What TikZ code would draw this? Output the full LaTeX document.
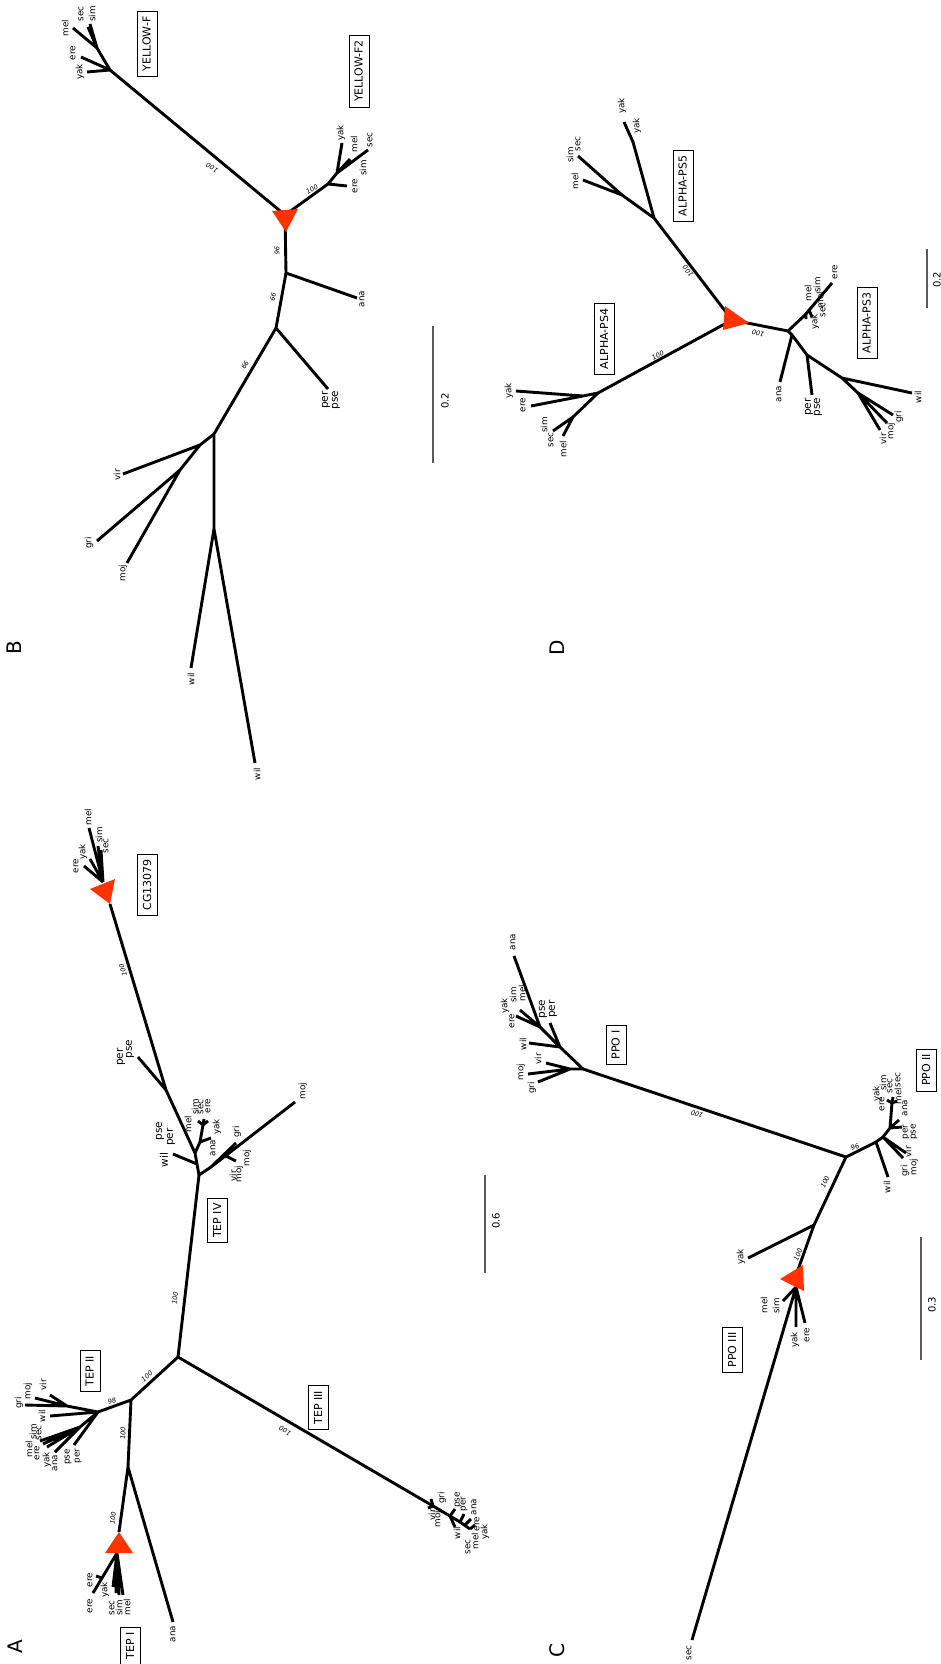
\documentclass[tikz,border=0pt]{standalone}
\usepackage{fontspec}
\setmainfont{DejaVu Sans}
\definecolor{triorange}{HTML}{FF3300}
\definecolor{bargray}{gray}{0.35}

\begin{document}
\begin{tikzpicture}[x=1pt, y=-1pt,
  branch/.style={line width=2.9pt, line join=round},
  tri/.style={fill=triorange},
  leaf/.style={rotate=90, inner sep=0pt, font=\fontsize{8.8}{10}\selectfont},
  bigleaf/.style={leaf, font=\fontsize{10.5}{12}\selectfont},
  boot/.style={inner sep=0pt, font=\fontsize{6.6}{8}\selectfont\itshape},
  clade/.style={draw, line width=0.8pt, rotate=90, inner xsep=5pt, inner ysep=5.5pt,
                text height=8pt, text depth=1pt, font=\fontsize{11}{13}\selectfont},
  bar/.style={line width=1.2pt, bargray},
  barlabel/.style={rotate=90, font=\fontsize{10}{12}\selectfont},
  panel/.style={rotate=90, font=\fontsize{20}{24}\selectfont},
]
  \fill[white] (0,0) rectangle (940,1664);
  \useasboundingbox (0,0) rectangle (940,1664);

  \coordinate (aR) at (178,1357);
  \coordinate (aIV) at (199,1175);
  \coordinate (aS) at (131,1400);
  \coordinate (aII) at (98,1412);
  \coordinate (aI) at (128,1467);
  \coordinate (aIIIa) at (433,1506);
  \coordinate (aIIIb) at (450,1516);
  \coordinate (aIIIc) at (460,1522);
  \coordinate (aIIId) at (470,1529);
  \coordinate (aIIIe) at (465,1525);
  \coordinate (a3gri) at (431,1499);
  \coordinate (a3vir) at (428,1508);
  \coordinate (a3wil) at (455,1527);
  \coordinate (a3pse) at (455,1509);
  \coordinate (a3per) at (464,1514);
  \coordinate (a3ana) at (471,1519);
  \coordinate (a3ere) at (475,1525);
  \coordinate (aIIs) at (67,1406);
  \coordinate (a2vir) at (50,1395);
  \coordinate (a2moj) at (35,1398);
  \coordinate (a2gri) at (25,1405);
  \coordinate (a2wil) at (50,1416);
  \coordinate (aIIl) at (80,1427);
  \coordinate (a2ana) at (55,1452);
  \coordinate (a2yak) at (47,1447);
  \coordinate (a2ere) at (43,1444);
  \coordinate (a2mel) at (40,1441);
  \coordinate (a2pse) at (74,1445);
  \coordinate (aIt) at (119,1532);
  \coordinate (aIl) at (105,1553);
  \coordinate (aIr) at (133,1553);
  \coordinate (aIb) at (117,1553);
  \coordinate (aIe) at (102,1578);
  \coordinate (a1ere) at (93,1593);
  \coordinate (a1ere2) at (96,1576);
  \coordinate (a1yak) at (113,1587);
  \coordinate (a1sec) at (116,1593);
  \coordinate (a1sim) at (119,1595);
  \coordinate (a1mel) at (123,1595);
  \coordinate (a1ana) at (173,1622);
  \coordinate (a6) at (195,1153);
  \coordinate (a7) at (166,1090);
  \coordinate (a7pp) at (138,1057);
  \coordinate (aCGl) at (90,889);
  \coordinate (aCGr) at (115,879);
  \coordinate (aCGt) at (110,904);
  \coordinate (aCGb) at (103,882);
  \coordinate (cgmel) at (89,828);
  \coordinate (cgsim) at (98,846);
  \coordinate (cgsec) at (101,850);
  \coordinate (cgyak) at (90,859);
  \coordinate (cgere) at (84,866);
  \coordinate (a6w) at (197,1164);
  \coordinate (a6wil) at (173,1154);
  \coordinate (a6b) at (200,1142);
  \coordinate (a6ya) at (211,1138);
  \coordinate (a8) at (203,1125);
  \coordinate (a8a) at (198,1121);
  \coordinate (a8b) at (208,1121);
  \coordinate (a8c) at (204,1119);
  \coordinate (a9) at (211,1167);
  \coordinate (a9b) at (226,1156);
  \coordinate (a9vm) at (236,1161);
  \coordinate (a9gri) at (236,1143);
  \coordinate (a9moj) at (295,1102);

  \draw[branch] (aR) -- (aIV) (aR) -- (aS) (aS) -- (aII) (aS) -- (aI);
  \draw[branch] (aR) -- (aIIIa) -- (aIIIb) -- (aIIIc) -- (aIIId);
  \draw[branch] (aIIIa) -- (a3gri) (aIIIa) -- (a3vir) (aIIIb) -- (a3wil) (aIIIb) -- (a3pse)
                (aIIIc) -- (a3per) (aIIIe) -- (a3ana) (aIIId) -- (a3ere);
  \draw[branch] (aII) -- (aIIs) (aIIs) -- (a2vir) (aIIs) -- (a2moj) (aIIs) -- (a2gri)
                (aII) -- (a2wil) (aII) -- (aIIl) (aIIl) -- (a2ana) (aIIl) -- (a2yak)
                (aIIl) -- (a2ere) (aIIl) -- (a2mel) (aII) -- (a2pse);
  \draw[branch] (aI) -- (aIt) (aI) -- (a1ana);
  \draw[branch] (aIb) -- (aIe) -- (a1ere) (aIe) -- (a1ere2) (aIb) -- (a1yak)
                (aIb) -- (a1sec) (aIb) -- (a1sim) (aIb) -- (a1mel);
  \draw[branch] (aIV) -- (a6) -- (a7) -- (aCGt) (a7) -- (a7pp);
  \draw[branch] (aCGb) -- (cgmel) (aCGb) -- (cgsim) (aCGb) -- (cgsec) (aCGb) -- (cgyak) (aCGb) -- (cgere);
  \draw[branch] (a6w) -- (a6wil) (a6) -- (a6b) -- (a8) (a6b) -- (a6ya)
                (a8) -- (a8a) (a8) -- (a8b) (a8) -- (a8c);
  \draw[branch] (aIV) -- (a9) -- (a9moj) (a9) -- (a9gri) (a9b) -- (a9vm);
  \fill[tri] (aIt) -- (aIl) -- (aIr) -- cycle;
  \fill[tri] (aCGl) -- (aCGr) -- (aCGt) -- cycle;

  \node[leaf] (lA3gri) at (442,1498) {gri};
  \node[leaf] (lA3vir) at (432,1515) {vir};
  \node[leaf] (lA3moj) at (438,1519) {moj};
  \node[leaf] (lA3pse) at (458,1500) {pse};
  \node[leaf] (lA3per) at (464,1504) {per};
  \node[leaf] (lA3ana) at (474,1507) {ana};
  \node[leaf] (lA3wil) at (457,1533) {wil};
  \node[leaf] (lA3sec) at (468,1547) {sec};
  \node[leaf] (lA3mel) at (475,1541) {mel};
  \node[leaf] (lA3ere) at (477,1524) {ere};
  \node[leaf] (lA3yak) at (485,1532) {yak};
  \node[leaf] (lA2vir) at (43,1385) {vir};
  \node[leaf] (lA2moj) at (28,1391) {moj};
  \node[leaf] (lA2gri) at (19,1403) {gri};
  \node[leaf] (lA2wil) at (42,1416) {wil};
  \node[leaf] (lA2sec) at (39,1433) {sec};
  \node[leaf] (lA2sim) at (33,1432) {sim};
  \node[leaf] (lA2mel) at (29,1449) {mel};
  \node[leaf] (lA2ere) at (37,1453) {ere};
  \node[leaf] (lA2yak) at (47,1460) {yak};
  \node[leaf] (lA2ana) at (55,1463) {ana};
  \node[leaf] (lA2pse) at (68,1457) {pse};
  \node[leaf] (lA2per) at (78,1456) {per};
  \node[leaf] (lA1ere) at (90,1580) {ere};
  \node[leaf] (lA1ere2) at (90,1606) {ere};
  \node[leaf] (lA1yak) at (105,1590) {yak};
  \node[leaf] (lA1sec) at (112,1608) {sec};
  \node[leaf] (lA1sim) at (119,1608) {sim};
  \node[leaf] (lA1mel) at (127,1607) {mel};
  \node[leaf] (lA1ana) at (173,1634) {ana};
  \node[leaf] (lCGmel) at (88,817) {mel};
  \node[leaf] (lCGsim) at (99,835) {sim};
  \node[leaf] (lCGsec) at (106,846) {sec};
  \node[leaf] (lCGyak) at (83,852) {yak};
  \node[leaf] (lCGere) at (76,866) {ere};
  \node[bigleaf] (lA7per) at (121,1057) {per};
  \node[bigleaf] (lA7pse) at (130,1049) {pse};
  \node[bigleaf] (lA4wil) at (164,1160) {wil};
  \node[bigleaf] (lA4pse) at (160,1131) {pse};
  \node[bigleaf] (lA4per) at (171,1137) {per};
  \node[leaf] (lA4mel) at (188,1124) {mel};
  \node[leaf] (lA4sim) at (195,1107) {sim};
  \node[leaf] (lA4sec) at (201,1107) {sec};
  \node[leaf] (lA4ere) at (208,1106) {ere};
  \node[leaf] (lA4yak) at (217,1127) {yak};
  \node[leaf] (lA4ana) at (213,1148) {ana};
  \node[leaf] (lA4gri) at (237,1132) {gri};
  \node[leaf] (lA4vir) at (233,1176) {vir};
  \node[leaf] (lA4moj) at (239,1174) {moj};
  \node[leaf] (lA4moj2) at (247,1158) {moj};
  \node[leaf] (lA4moj3) at (303,1091) {moj};

  \node[boot, rotate=84] (bA1) at (175,1298) {100};
  \node[boot, rotate=42] (bA2) at (147,1376) {100};
  \node[boot, rotate=15] (bA3) at (112,1401) {98};
  \node[boot, rotate=88] (bA4) at (123,1433) {100};
  \node[boot, rotate=84] (bA5) at (113,1518) {100};
  \node[boot, rotate=150] (bA6) at (285,1431) {100};
  \node[boot, rotate=106] (bA7) at (123,970) {100};

  \node[clade] (tepI) at (130.5,1646) {TEP I};
  \node[clade] (tepII) at (90,1371) {TEP II};
  \node[clade] (tepIII) at (318.5,1407.5) {TEP III};
  \node[clade] (tepIV) at (217.5,1220.5) {TEP IV};
  \node[clade] (cg) at (147.5,885) {CG13079};
  \coordinate (sA1) at (485,1175);
  \coordinate (sA2) at (485,1273);
  \draw[bar] (sA1) -- (sA2);
  \node[barlabel] (sAl) at (496,1221) {0.6};
  \node[panel] (pA) at (15,1647) {A};

  \coordinate (bYF) at (110,70);
  \coordinate (bYFs) at (97,48);
  \coordinate (byyak) at (87,72);
  \coordinate (byere) at (81,57);
  \coordinate (bymel) at (73,28);
  \coordinate (bysec) at (88,27);
  \coordinate (bysim) at (90,24);
  \coordinate (bTa) at (272,211);
  \coordinate (bTb) at (298,209);
  \coordinate (bTc) at (286,232);
  \coordinate (bT) at (285,215);
  \coordinate (bYF2) at (328,184);
  \coordinate (bYF2s) at (337,173);
  \coordinate (bzere) at (347,186);
  \coordinate (bzyak) at (342,143);
  \coordinate (bzmel) at (350,159);
  \coordinate (bzsim) at (368,150);
  \coordinate (bJ1) at (286,273);
  \coordinate (bana) at (357,298);
  \coordinate (bJ2) at (276,328);
  \coordinate (bpp) at (328,389);
  \coordinate (bJ3) at (214,434);
  \coordinate (bS1) at (200,445);
  \coordinate (bS2) at (180,470);
  \coordinate (bvir) at (123,474);
  \coordinate (bgri) at (97,541);
  \coordinate (bmoj) at (127,563);
  \coordinate (bJ4) at (214,529);
  \coordinate (bwil) at (191,668);
  \coordinate (bwil2) at (255,763);

  \draw[branch] (bYF) -- (byyak) (bYF) -- (byere) (bYF) -- (bYFs) (bYFs) -- (bymel)
                (bYFs) -- (bysec) (bYFs) -- (bysim);
  \draw[branch] (bT) -- (bYF) (bT) -- (bYF2) (bYF2) -- (bzere) (bYF2) -- (bYF2s)
                (bYF2s) -- (bzyak) (bYF2s) -- (bzmel) (bYF2s) -- (bzsim);
  \draw[branch] (bT) -- (bJ1) -- (bJ2) -- (bJ3) -- (bJ4) (bJ1) -- (bana) (bJ2) -- (bpp);
  \draw[branch] (bJ3) -- (bS1) -- (bvir) (bS1) -- (bS2) -- (bgri) (bS2) -- (bmoj)
                (bJ4) -- (bwil) (bJ4) -- (bwil2);
  \fill[tri] (bTa) -- (bTb) -- (bTc) -- cycle;

  \node[leaf] (lByak) at (80,72) {yak};
  \node[leaf] (lBere) at (73,53) {ere};
  \node[leaf] (lBmel) at (65,28) {mel};
  \node[leaf] (lBsec) at (81,14) {sec};
  \node[leaf] (lBsim) at (92,14) {sim};
  \node[leaf] (lB2ere) at (355,186) {ere};
  \node[leaf] (lB2yak) at (341,133) {yak};
  \node[leaf] (lB2mel) at (354,144) {mel};
  \node[leaf] (lB2sim) at (363,168) {sim};
  \node[leaf] (lB2sec) at (370,140) {sec};
  \node[leaf] (lBana) at (362,299) {ana};
  \node[bigleaf] (lBper) at (326,400) {per};
  \node[bigleaf] (lBpse) at (336,400) {pse};
  \node[leaf] (lBvir) at (117,475) {vir};
  \node[leaf] (lBgri) at (89,543) {gri};
  \node[leaf] (lBmoj) at (123,573) {moj};
  \node[leaf] (lBwil) at (191,679) {wil};
  \node[leaf] (lBwil2) at (257,774) {wil};

  \node[boot, rotate=150] (bB1) at (212,168) {100};
  \node[boot, rotate=30] (bB2) at (312,189) {100};
  \node[boot, rotate=-90] (bB3) at (277,251) {96};
  \node[boot, rotate=-100] (bB4) at (273,297) {99};
  \node[boot, rotate=-120] (bB5) at (245,365) {99};

  \node[clade] (yf) at (147,44) {YELLOW-F};
  \node[clade] (yf2) at (359,71) {YELLOW-F2};
  \coordinate (sB1) at (433,326);
  \coordinate (sB2) at (433,463);
  \draw[bar] (sB1) -- (sB2);
  \node[barlabel] (sBl) at (445,401) {0.2};
  \node[panel] (pB) at (14,648) {B};

  \coordinate (cTa) at (780,1279);
  \coordinate (cTb) at (803,1265);
  \coordinate (cTc) at (804,1291);
  \coordinate (cT) at (795,1278);
  \coordinate (cTm) at (796,1287);
  \coordinate (cJ1) at (814,1225);
  \coordinate (c1yak) at (748,1258);
  \coordinate (cJ2) at (846,1157);
  \coordinate (cP1) at (583,1069);
  \coordinate (cS1) at (560,1047);
  \coordinate (cS2) at (540,1027);
  \coordinate (cS3) at (570,1069);
  \coordinate (c1ana) at (514,956);
  \coordinate (c1y) at (520,1010);
  \coordinate (c1y2) at (516,1016);
  \coordinate (c1ps) at (550,1023);
  \coordinate (c1wil) at (529,1043);
  \coordinate (c1vir) at (546,1063);
  \coordinate (c1moj) at (528,1074);
  \coordinate (c1gri) at (538,1082);
  \coordinate (cQ1) at (876,1142);
  \coordinate (cQ2) at (883,1137);
  \coordinate (cQ4) at (890,1128);
  \coordinate (cQ5) at (892,1103);
  \coordinate (c2wil) at (888,1177);
  \coordinate (c2gmv) at (903,1158);
  \coordinate (c2v) at (906,1153);
  \coordinate (c2pp) at (902,1127);
  \coordinate (c2ana) at (899,1120);
  \coordinate (c2t1) at (887,1100);
  \coordinate (c2t2) at (897,1101);
  \coordinate (c2t3) at (893,1097);
  \coordinate (c3ms) at (783,1301);
  \coordinate (c3yak) at (796,1327);
  \coordinate (c3ere) at (805,1323);
  \coordinate (c3sec) at (692,1640);

  \draw[branch] (cT) -- (cJ1) -- (cJ2) -- (cP1) (cJ1) -- (c1yak);
  \draw[branch] (cP1) -- (cS1) -- (cS2) -- (c1ana) (cS2) -- (c1y) (cS2) -- (c1y2)
                (cS1) -- (c1ps) (cS1) -- (c1wil) (cP1) -- (cS3) (cS3) -- (c1vir)
                (cS3) -- (c1moj) (cS3) -- (c1gri);
  \draw[branch] (cJ2) -- (cQ1) -- (cQ2) -- (cQ4) -- (cQ5) (cQ1) -- (c2wil)
                (cQ2) -- (c2gmv) (cQ2) -- (c2v) (cQ4) -- (c2pp) (cQ4) -- (c2ana)
                (cQ5) -- (c2t1) (cQ5) -- (c2t2) (cQ5) -- (c2t3);
  \draw[branch] (cTm) -- (c3sec) (cTm) -- (c3ms) (cTm) -- (c3yak) (cTm) -- (c3ere);
  \fill[tri] (cTa) -- (cTb) -- (cTc) -- cycle;

  \node[leaf] (lC1yak) at (741,1257) {yak};
  \node[leaf] (lC1ana) at (513,942) {ana};
  \node[bigleaf] (lC1pse) at (543,1009) {pse};
  \node[bigleaf] (lC1per) at (553,1009) {per};
  \node[leaf] (lC1yak2) at (505,1006) {yak};
  \node[leaf] (lC1sim) at (513,995) {sim};
  \node[leaf] (lC1mel) at (522,993) {mel};
  \node[leaf] (lC1ere) at (512,1021) {ere};
  \node[leaf] (lC1wil) at (523,1044) {wil};
  \node[leaf] (lC1vir) at (538,1059) {vir};
  \node[leaf] (lC1moj) at (521,1072) {moj};
  \node[leaf] (lC1gri) at (532,1088) {gri};
  \node[leaf] (lC2wil) at (887,1187) {wil};
  \node[leaf] (lC2vir) at (908,1152) {vir};
  \node[leaf] (lC2gri) at (905,1171) {gri};
  \node[leaf] (lC2moj) at (914,1167) {moj};
  \node[leaf] (lC2per) at (906,1132) {per};
  \node[leaf] (lC2pse) at (914,1132) {pse};
  \node[leaf] (lC2ana) at (905,1108) {ana};
  \node[leaf] (lC2yak) at (877,1094) {yak};
  \node[leaf] (lC2ere) at (882,1104) {ere};
  \node[leaf] (lC2sim) at (883,1083) {sim};
  \node[leaf] (lC2sec) at (890,1086) {sec};
  \node[leaf] (lC2mel) at (898,1096) {mel};
  \node[leaf] (lC2sec2) at (898,1080) {sec};
  \node[leaf] (lC3mel) at (764,1305) {mel};
  \node[leaf] (lC3sim) at (776,1306) {sim};
  \node[leaf] (lC3yak) at (795,1340) {yak};
  \node[leaf] (lC3ere) at (807,1335) {ere};
  \node[leaf] (lC3sec) at (689,1653) {sec};

  \node[boot, rotate=69] (bC1) at (798,1255) {100};
  \node[boot, rotate=65] (bC2) at (825,1182) {100};
  \node[boot, rotate=161.5] (bC3) at (697,1114) {100};
  \node[boot, rotate=25] (bC4) at (855,1147) {96};

  \node[clade] (ppoI) at (616,1045) {PPO I};
  \node[clade] (ppoII) at (926.5,1070) {PPO II};
  \node[clade] (ppoIII) at (732.5,1350) {PPO III};
  \coordinate (sC1) at (921,1237);
  \coordinate (sC2) at (921,1360);
  \draw[bar] (sC1) -- (sC2);
  \node[barlabel] (sCl) at (932,1305) {0.3};
  \node[panel] (pC) at (557,1650) {C};

  \coordinate (dTa) at (725,306);
  \coordinate (dTb) at (749,323);
  \coordinate (dTc) at (723,330);
  \coordinate (dT) at (732,320);
  \coordinate (dP5) at (654,218);
  \coordinate (dY1) at (633,142);
  \coordinate (dY2) at (624,122);
  \coordinate (dS5) at (622,195);
  \coordinate (d5mel) at (583,180);
  \coordinate (d5sim) at (578,156);
  \coordinate (dP4) at (598,393);
  \coordinate (dS4a) at (583,396);
  \coordinate (dS4b) at (573,417);
  \coordinate (d4yak) at (516,391);
  \coordinate (d4ere) at (531,406);
  \coordinate (d4sim) at (553,431);
  \coordinate (d4mel) at (563,436);
  \coordinate (dP3) at (788,331);
  \coordinate (dS3a) at (805,315);
  \coordinate (d3ere) at (832,283);
  \coordinate (d3k1) at (809,310);
  \coordinate (d3k1e) at (812,317);
  \coordinate (d3k2) at (806,313);
  \coordinate (d3k2e) at (806,319);
  \coordinate (dS3b) at (792,335);
  \coordinate (d3ana) at (780,382);
  \coordinate (dS3c) at (807,355);
  \coordinate (d3pp) at (812,395);
  \coordinate (dS3d) at (842,378);
  \coordinate (d3wil) at (912,393);
  \coordinate (dS3e) at (858,393);
  \coordinate (d3gri) at (893,415);
  \coordinate (d3moj) at (887,423);
  \coordinate (d3vir) at (880,430);

  \draw[branch] (dT) -- (dP5) -- (dY1) -- (dY2) (dP5) -- (dS5) -- (d5mel) (dS5) -- (d5sim);
  \draw[branch] (dT) -- (dP4) (dP4) -- (dS4a) (dS4a) -- (d4yak) (dS4a) -- (d4ere)
                (dP4) -- (dS4b) (dS4b) -- (d4sim) (dS4b) -- (d4mel);
  \draw[branch] (dT) -- (dP3) -- (dS3a) -- (d3ere) (d3k1) -- (d3k1e) (d3k2) -- (d3k2e)
                (dP3) -- (dS3b) -- (dS3c) -- (dS3d) -- (dS3e) (dS3b) -- (d3ana)
                (dS3c) -- (d3pp) (dS3d) -- (d3wil) (dS3e) -- (d3gri) (dS3e) -- (d3moj)
                (dS3e) -- (d3vir);
  \fill[tri] (dTa) -- (dTb) -- (dTc) -- cycle;

  \node[leaf] (lD5yak) at (622,106) {yak};
  \node[leaf] (lD5yak2) at (637,126) {yak};
  \node[leaf] (lD5mel) at (575,181) {mel};
  \node[leaf] (lD5sim) at (570,155) {sim};
  \node[leaf] (lD5sec) at (578,144) {sec};
  \node[leaf] (lD4yak) at (509,391) {yak};
  \node[leaf] (lD4ere) at (523,405) {ere};
  \node[leaf] (lD4sim) at (544,425) {sim};
  \node[leaf] (lD4sec) at (551,440) {sec};
  \node[leaf] (lD4mel) at (563,449) {mel};
  \node[leaf] (lD3ere) at (835,272) {ere};
  \node[leaf] (lD3mel) at (808,293) {mel};
  \node[leaf] (lD3sim) at (817,285) {sim};
  \node[leaf] (lD3mel2) at (820,300) {mel};
  \node[leaf] (lD3sec) at (823,310) {sec};
  \node[leaf] (lD3yak) at (815,322) {yak};
  \node[leaf] (lD3ana) at (779,394) {ana};
  \node[bigleaf] (lD3per) at (809,407) {per};
  \node[bigleaf] (lD3pse) at (818,407) {pse};
  \node[leaf] (lD3wil) at (918,397) {wil};
  \node[leaf] (lD3gri) at (899,417) {gri};
  \node[leaf] (lD3moj) at (891,431) {moj};
  \node[leaf] (lD3vir) at (883,439) {vir};

  \node[boot, rotate=129] (bD1) at (688,271) {100};
  \node[boot, rotate=27] (bD2) at (658,355) {100};
  \node[boot, rotate=167] (bD3) at (758,333) {100};

  \node[clade] (ps5) at (683,186) {ALPHA-PS5};
  \node[clade] (ps4) at (604.5,339) {ALPHA-PS4};
  \node[clade] (ps3) at (867,323) {ALPHA-PS3};
  \coordinate (sD1) at (927,249);
  \coordinate (sD2) at (927,308);
  \draw[bar] (sD1) -- (sD2);
  \node[barlabel] (sDl) at (937,280) {0.2};
  \node[panel] (pD) at (557,648) {D};
\end{tikzpicture}
\end{document}
